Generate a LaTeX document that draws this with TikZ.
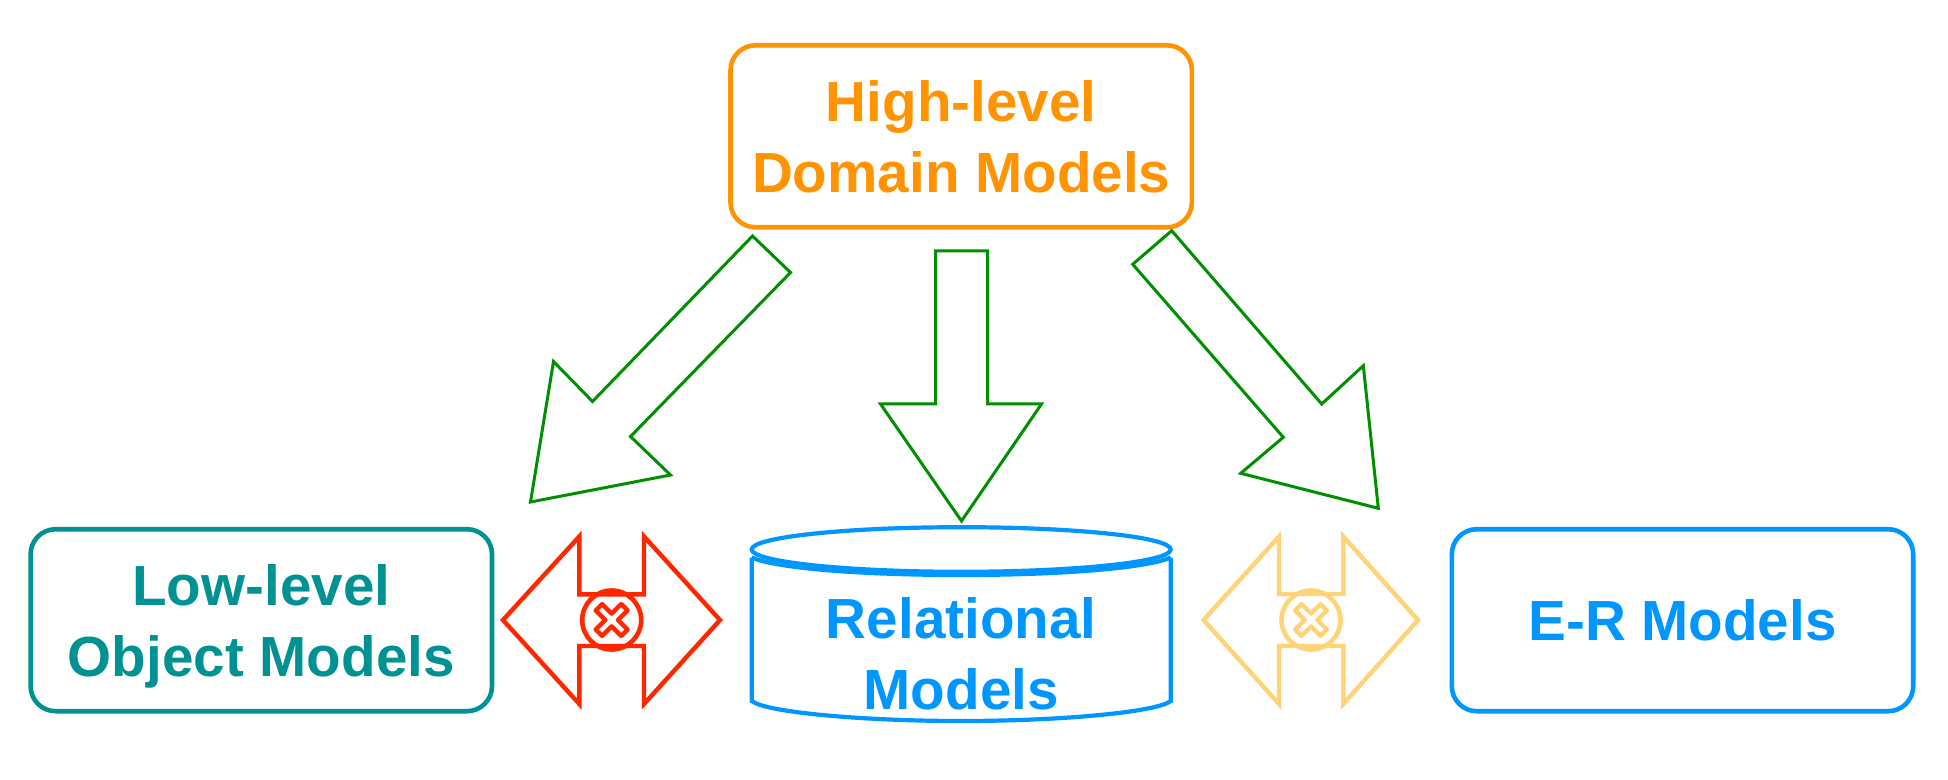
\documentclass[tikz,border=0pt]{standalone}
\usepackage{fontspec}
\setmainfont{Liberation Sans}
\usepackage{xcolor}
\usepackage{tikz}
\usetikzlibrary{positioning}
\definecolor{ModelOrange}{HTML}{FF9300}
\definecolor{ModelTeal}{HTML}{009193}
\definecolor{ModelBlue}{HTML}{0096FF}
\definecolor{ModelGreen}{HTML}{008F00}
\definecolor{ModelRed}{HTML}{FF2600}
\definecolor{ModelYellow}{HTML}{FFD479}
\tikzset{
  modeltext/.style={align=center,text depth=0pt,inner sep=0pt,
    font=\fontsize{28.3}{35.5}\selectfont\bfseries},
  modelbox/.style={modeltext,draw,rounded corners=12.5pt,line width=2.3pt,
    minimum width=230.7pt,minimum height=91pt},
  blockarrow/.style={draw=ModelGreen,line width=1.5pt,miter limit=20},
  clasharrow/.style={line width=2.2pt,miter limit=20},
  clashring/.style={line width=2.3pt},
  clashcross/.style={line width=2.2pt,line join=round},
}

\begin{document}
\begin{tikzpicture}[x=0.5pt,y=-0.5pt]
  \useasboundingbox (0,0) rectangle (1948,780);
  % boxes
  \node[modelbox,draw=ModelOrange,text=ModelOrange] (high) at (961.2,136.3)
    {High-level\\Domain Models};
  \node[modelbox,draw=ModelTeal,text=ModelTeal] (low) at (261.3,620.2)
    {Low-level\\Object Models};
  \node[modelbox,draw=ModelBlue,text=ModelBlue] (er) at (1682.5,620.2)
    {E-R Models};
  % relational store
  \draw[ModelBlue,line width=2.1pt] (751.7,557.5) -- (751.7,701)
    .. controls (765,712) and (860,721) .. (961.2,721)
    .. controls (1062,721) and (1157,712) .. (1170.7,701) -- (1170.7,557.5);
  \draw[ModelBlue,line width=2.1pt] (751.7,557.5)
    .. controls (775,568) and (860,575) .. (961.2,575)
    .. controls (1062,575) and (1147,568) .. (1170.7,557.5);
  \draw[ModelBlue,line width=2.1pt] (961.2,549.5) ellipse (209.5 and 22.3);
  \node[modeltext,text=ModelBlue] (rel) at (961.2,653.2) {Relational\\Models};
  % mapping arrows
  \draw[blockarrow] (752.5,236) -- (790.5,272.5) -- (630.5,436.5) -- (670.5,475)
    -- (530.5,502) -- (553.5,361.5) -- (592.5,401.5) -- cycle;
  \draw[blockarrow] (935.5,251) -- (987.5,251) -- (987.5,404) -- (1041.5,404)
    -- (961.5,521) -- (880.5,404) -- (935.5,404) -- cycle;
  \draw[blockarrow] (1171.7,230.7) -- (1132.7,264.3) -- (1283.3,437.3) -- (1240.7,473.3)
    -- (1378.3,508.3) -- (1363.3,365.7) -- (1321.7,404) -- cycle;
  % red clash
  \draw[clasharrow,ModelRed] (503,620) -- (579.3,536.5) -- (579.3,594.3) -- (644,594.3)
    -- (644,536.5) -- (720,620) -- (644,704) -- (644,646) -- (579.3,646)
    -- (579.3,704) -- cycle;
  \draw[clashring,ModelRed] (611.7,620) circle (29.5);
  \draw[clashcross,ModelRed,shift={(611.7,620)},rotate=45]
    (-4.5,-18) -- (4.5,-18) -- (4.5,-4.5) -- (18,-4.5) -- (18,4.5) -- (4.5,4.5) -- (4.5,18)
    -- (-4.5,18) -- (-4.5,4.5) -- (-18,4.5) -- (-18,-4.5) -- (-4.5,-4.5) -- cycle;
  % yellow clash
  \draw[clasharrow,ModelYellow] (1203.5,620) -- (1279,536.5) -- (1279,594) -- (1343.3,594)
    -- (1343.3,536.5) -- (1418,620) -- (1343.3,704) -- (1343.3,646) -- (1279,646)
    -- (1279,704) -- cycle;
  \draw[clashring,ModelYellow] (1311,620) circle (29.5);
  \draw[clashcross,ModelYellow,shift={(1311,620)},rotate=45]
    (-4.5,-18) -- (4.5,-18) -- (4.5,-4.5) -- (18,-4.5) -- (18,4.5) -- (4.5,4.5) -- (4.5,18)
    -- (-4.5,18) -- (-4.5,4.5) -- (-18,4.5) -- (-18,-4.5) -- (-4.5,-4.5) -- cycle;
\end{tikzpicture}
\end{document}
